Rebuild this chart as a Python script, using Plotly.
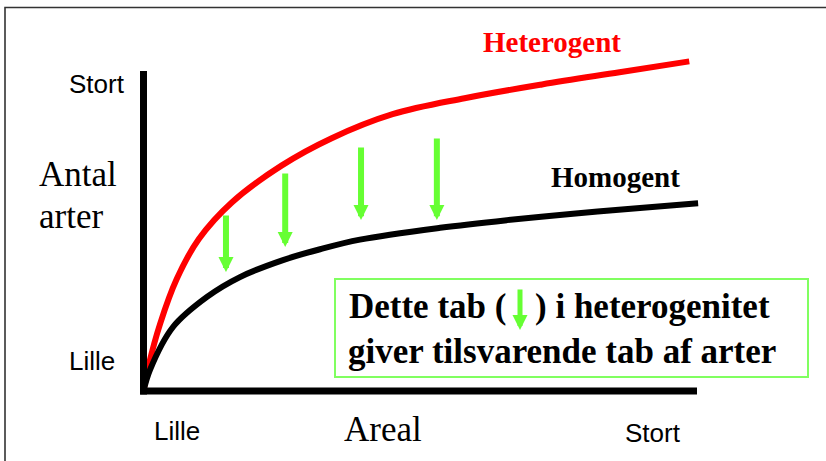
import plotly.graph_objects as go

# ---- data (x: Areal, y: Antal arter; 0..100 arbitrary units) ----
het_x = [0, 1, 3, 6, 10, 16, 25, 34, 45, 58, 72, 86, 98.6]
het_y = [0, 8.5, 21, 35, 47.5, 59, 70.5, 79, 86.5, 91.5, 95.8, 99.6, 103]
hom_x = [0, 1.17, 5.33, 11.47, 17.43, 25.2, 31.9, 39.1, 53.6, 65.7, 77.6, 89.7, 100.2]
hom_y = [0, 6.6, 20.0, 29.4, 35.6, 40.9, 44.3, 47.3, 51.0, 53.4, 55.4, 57.2, 58.7]
arrow_x = [14.9, 25.6, 39.3, 53.0]
arrow_top = [55.3, 68.4, 76.6, 79.4]
arrow_tip = [37.2, 45.0, 53.4, 53.4]

series_names = ["Heterogent", "Homogent"]
y_title = ["Antal", "arter"]
x_title = "Areal"
tick_low, tick_high = "Lille", "Stort"
note_line1a = "Dette tab ("
note_line1b = ") i heterogenitet"
note_line2 = "giver tilsvarende tab af arter"

W, H = 826, 461
RED = "#FF0000"
GREEN = "#66FF33"
BOX_GREEN = "#80FF60"
SERIF = "Liberation Serif, Times New Roman, serif"
SANS = "Liberation Sans, Arial, sans-serif"

def PX(x):
    return x / W

def PY(y):
    return 1 - y / H

fig = go.Figure()
fig.add_trace(go.Scatter(x=het_x, y=het_y, mode="lines",
                         line=dict(color=RED, width=6, shape="spline", smoothing=1),
                         hoverinfo="skip", showlegend=False))
fig.add_trace(go.Scatter(x=hom_x, y=hom_y, mode="lines",
                         line=dict(color="black", width=6, shape="spline", smoothing=1),
                         hoverinfo="skip", showlegend=False))

shapes = [
    # axes
    dict(type="line", xref="x", yref="y", x0=0, x1=0, y0=-1.1, y1=100,
         line=dict(color="black", width=7)),
    dict(type="line", xref="x", yref="y", x0=-0.6, x1=100, y0=0, y1=0,
         line=dict(color="black", width=7)),
    # outer frame
    dict(type="rect", xref="paper", yref="paper", x0=PX(5), x1=1.05, y0=-0.05, y1=PY(7.5),
         line=dict(color="#333333", width=1.6)),
    # note box
    dict(type="rect", xref="paper", yref="paper", x0=PX(335), x1=PX(808), y0=PY(377), y1=PY(279),
         line=dict(color=BOX_GREEN, width=2), fillcolor="white", layer="below"),
]

ann = []
for xa, yt, yh in zip(arrow_x, arrow_top, arrow_tip):
    ann.append(dict(x=xa, y=yh, ax=xa, ay=yt, xref="x", yref="y", axref="x", ayref="y",
                    text="", showarrow=True, arrowhead=2, arrowsize=0.5, arrowwidth=6,
                    arrowcolor=GREEN))

def label(text, x, y, size, family, color="black", xanchor="left"):
    ann.append(dict(x=PX(x), y=PY(y), xref="paper", yref="paper", text=text, showarrow=False,
                    xanchor=xanchor, yanchor="middle",
                    font=dict(size=size, family=family, color=color)))

label("<b>%s</b>" % series_names[0], 552, 42, 29, SERIF, RED, "center")
label("<b>%s</b>" % series_names[1], 615, 177, 29, SERIF, "black", "center")
label(y_title[0], 37, 175, 35, SERIF)
label(y_title[1], 37, 216, 35, SERIF)
label(x_title, 342, 429, 35, SERIF)
label(tick_high, 67, 84, 26, SANS)
label(tick_low, 67, 361, 26, SANS)
label(tick_low, 152, 431, 26, SANS)
label(tick_high, 623, 433, 26, SANS)
label("<b>%s</b>" % note_line1a, 508, 306, 35, SERIF, xanchor="right")
label("<b>%s</b>" % note_line1b, 533, 306, 35, SERIF)
label("<b>%s</b>" % note_line2, 346, 351, 35, SERIF)

# arrow inside the note text
ann.append(dict(x=PX(520), y=PY(330), xref="paper", yref="paper", ax=0, ay=-42,
                text="", showarrow=True, arrowhead=2, arrowsize=0.6, arrowwidth=5,
                arrowcolor=GREEN))

fig.update_layout(
    width=W, height=H,
    margin=dict(l=0, r=0, t=0, b=0),
    paper_bgcolor="white", plot_bgcolor="white",
    xaxis=dict(range=[-143.5 / 5.535, (W - 143.5) / 5.535], visible=False, fixedrange=True),
    yaxis=dict(range=[(391 - H) / 3.2, 391 / 3.2], visible=False, fixedrange=True),
    shapes=shapes, annotations=ann, showlegend=False,
)
fig.write_html("out.html", config={"displayModeBar": False, "staticPlot": True},
               post_script="document.body.style.margin='0';document.body.style.overflow='hidden';")
